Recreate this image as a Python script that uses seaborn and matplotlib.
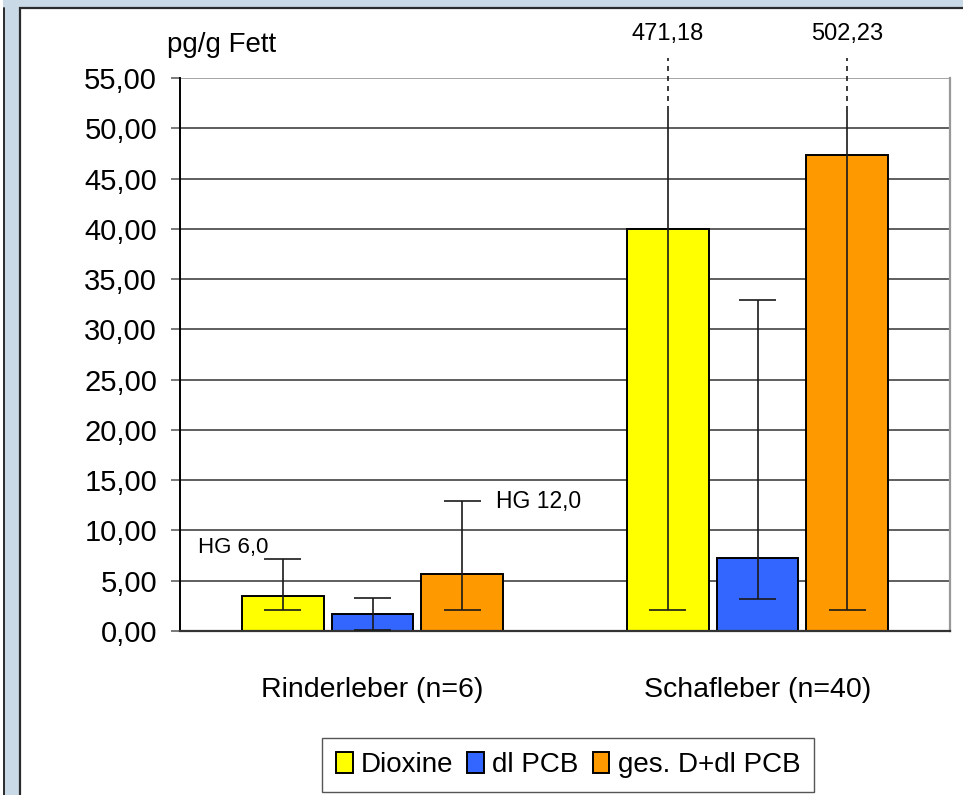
import pandas as pd
import seaborn as sns
import matplotlib.pyplot as plt
from matplotlib import font_manager
from matplotlib.patches import Rectangle
from matplotlib.lines import Line2D

# data (pg/g Fett)
kategorien = ["Rinderleber (n=6)", "Schafleber (n=40)"]
reihen = ["Dioxine", "dl PCB", "ges. D+dl PCB"]
farben = ["#FFFF00", "#3366FF", "#FF9900"]

dioxine = [3.5, 40.0]
dl_pcb = [1.65, 7.3]
gesamt = [5.7, 47.35]

# min / max whiskers
dioxine_min = [2.1, 2.1]
dioxine_max = [7.2, 471.18]
dl_pcb_min = [0.1, 3.15]
dl_pcb_max = [3.3, 32.9]
gesamt_min = [2.1, 2.1]
gesamt_max = [12.9, 502.23]

hg_texte = {(0, 0): "HG 6,0", (2, 0): "HG 12,0"}

namen = {f.name for f in font_manager.fontManager.ttflist}
schrift = "Liberation Sans Narrow" if "Liberation Sans Narrow" in namen else "Liberation Sans"

sns.set_style("white")
plt.rcParams["font.family"] = [schrift, "DejaVu Sans"]
plt.rcParams["text.color"] = "black"
plt.rcParams["xtick.labelcolor"] = "black"
plt.rcParams["ytick.labelcolor"] = "black"

df = pd.DataFrame({
    "Kategorie": kategorien * 3,
    "Reihe": [r for r in reihen for _ in kategorien],
    "Wert": dioxine + dl_pcb + gesamt,
})

fig = plt.figure(figsize=(9.63, 7.95), dpi=100, facecolor="#c9dae6")
# white panel with dark border, like the slide frame
fig.patches.append(Rectangle((20 / 963, -0.05), 1.0, 1 - 8 / 795 + 0.05, transform=fig.transFigure,
                             facecolor="white", edgecolor="#2b2b2b", lw=1.6, zorder=-2))
fig.patches.append(Rectangle((0, 0), 2.5 / 963, 1, transform=fig.transFigure,
                             facecolor="white", edgecolor="none", zorder=-2))
fig.lines.append(Line2D([3.5 / 963, 3.5 / 963], [0, 1 - 8 / 795], transform=fig.transFigure,
                        color="#2b2b2b", lw=1.4, zorder=-1))

ax = fig.add_axes([180 / 963, 1 - 631 / 795, 770 / 963, 553 / 795])
ax.set_facecolor("none")

sns.barplot(data=df, x="Kategorie", y="Wert", hue="Reihe", palette=farben,
            width=0.70, gap=0.09, edgecolor="black", linewidth=1.4,
            errorbar=None, ax=ax, saturation=1)
handles, labels = ax.get_legend_handles_labels()
ax.get_legend().remove()

ax.set_xlim(-0.5, 1.5)
ax.set_ylim(0, 55)
ax.set_yticks(range(0, 56, 5))
ax.set_yticklabels([f"{v:.2f}".replace(".", ",") for v in range(0, 56, 5)])
ax.set_xlabel("")
ax.set_ylabel("")
ax.set_axisbelow(True)
ax.yaxis.grid(True, color="#333333", lw=1.1)
ax.get_ygridlines()[-1].set_color("#8c8c8c")

ax.set_xticks([-0.5, 0.5, 1.5], minor=True)
ax.tick_params(axis="x", which="minor", length=8.5, width=1.1, color="#333333", direction="out")
ax.tick_params(axis="x", which="major", length=0, labelsize=20.5, pad=33)
ax.tick_params(axis="y", length=6.5, width=1.1, color="#555555", direction="out",
               labelsize=21, pad=10, left=True)

ax.spines["top"].set_visible(False)
ax.spines["left"].set_color("black")
ax.spines["left"].set_linewidth(1.4)
ax.spines["bottom"].set_color("#333333")
ax.spines["bottom"].set_linewidth(1.6)
ax.spines["right"].set_color("#999999")
ax.spines["right"].set_linewidth(1.6)

# whiskers: min to max, broken above the axis range
minima = [dioxine_min, dl_pcb_min, gesamt_min]
maxima = [dioxine_max, dl_pcb_max, gesamt_max]
kappe = 0.048
bruch = 51.7
for i, cont in enumerate(ax.containers):
    for j, bar in enumerate(cont):
        x = bar.get_x() + bar.get_width() / 2
        lo, hi = minima[i][j], maxima[i][j]
        oben = min(hi, bruch)
        ax.vlines(x, lo, oben, color="#1a1a1a", lw=1.2, zorder=4)
        ax.hlines(lo, x - kappe, x + kappe, color="#1a1a1a", lw=1.2, zorder=4)
        if hi > 55:
            ax.vlines(x, bruch, 57.0, color="#1a1a1a", lw=1.2, linestyles=(0, (3, 3)),
                      zorder=4, clip_on=False)
            ax.text(x, 58.3, f"{hi:.2f}".replace(".", ","), ha="center", va="bottom",
                    fontsize=17, clip_on=False)
        else:
            ax.hlines(hi, x - kappe, x + kappe, color="#1a1a1a", lw=1.2, zorder=4)
        if (i, j) in hg_texte:
            if i == 0:
                ax.text(x - kappe + 0.01, hi + 1.1, hg_texte[(i, j)], ha="right", va="center", fontsize=16)
            else:
                ax.text(x + kappe + 0.04, hi, hg_texte[(i, j)], ha="left", va="center", fontsize=16.5)

fig.text(167 / 963, 1 - 52 / 795, "pg/g Fett", ha="left", va="baseline", fontsize=20)

fig.legend(handles, labels, loc="upper left", bbox_to_anchor=(322 / 963, 1 - 738 / 795),
           ncol=3, fontsize=20, frameon=True, fancybox=False, edgecolor="#555555",
           framealpha=1, borderaxespad=0, handlelength=0.6, handleheight=0.8,
           handletextpad=0.3, columnspacing=0.5, borderpad=0.5)

fig.savefig("out.png", dpi=100, facecolor=fig.get_facecolor())
